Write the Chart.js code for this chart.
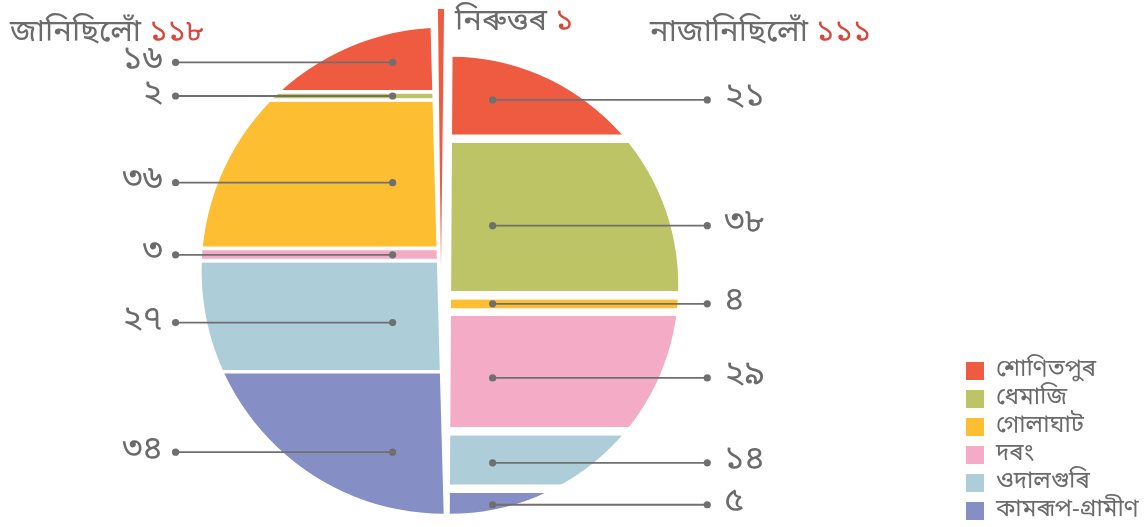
<!DOCTYPE html>
<html><head><meta charset="utf-8">
<script src="https://cdn.jsdelivr.net/npm/chart.js@4.4.1/dist/chart.umd.min.js"></script>
<style>
html,body{margin:0;padding:0;background:#fff;}
#wrap{position:relative;width:1148px;height:527px;overflow:hidden;}
#main{position:absolute;left:0;top:0;}
#wedge{position:absolute;left:179px;top:9px;}
</style></head><body>
<div id="wrap"><canvas id="main" width="1148" height="527"></canvas><canvas id="wedge" width="524" height="524"></canvas></div>
<script>
// ---- data ----
const districts = ['শোণিতপুৰ', 'ধেমাজি', 'গোলাঘাট', 'দৰং', 'ওদালগুৰি', 'কামৰূপ-গ্ৰামীণ'];
const knew = [16, 2, 36, 3, 27, 34];          // জানিছিলোঁ
const didNotKnow = [21, 38, 4, 29, 14, 5];    // নাজানিছিলোঁ
const noAnswer = 1;                           // নিৰুত্তৰ
const groupLabels = ['জানিছিলোঁ', 'নাজানিছিলোঁ', 'নিৰুত্তৰ'];
const colors = ['#EF5B40', '#BCC465', '#FDBE32', '#F4ABC6', '#ADCDD8', '#858FC6'];

const FONT = '"Noto Sans Bengali","Lohit Assamese","Lohit Bengali","Noto Sans",sans-serif';
const GRAY = '#6b6b6b';
const RED = '#D9463A';
const sum = a => a.reduce((s, v) => s + v, 0);
const bn = n => String(n).replace(/\d/g, d => '০১২৩৪৫৬৭৮৯'[d]);
const sides = [knew, didNotKnow];
const gapPx = [4, 9];
const LEADER_AT = 0.56;   // leader line position inside a band, from its top
const LEGEND_W = 186;

Chart.defaults.font.family = FONT;

// geometry of each half derived from the scales
function halves(chart) {
  const xs = chart.scales.x, ys = chart.scales.y;
  const B = xs.getPixelForValue(1);
  const base = ys.getPixelForValue(0);
  const unit = base - ys.getPixelForValue(1);
  return sides.map((arr, s) => {
    const R = sum(arr) * unit / 2;
    const cy = base - R;
    if (s === 0) return {cx: B - 2.7, cy, R, x0: B - 10.2, k: 0.0270, base, unit};
    return {cx: B + 2.3, cy, R, x0: B + 3.8, k: -0.006, base, unit};
  });
}
function regionPath(ctx, h, anticlockwise) {
  const d = h.x0 - h.cx, a = 1 + h.k * h.k, b = 2 * d * h.k, c = d * d - h.R * h.R;
  const disc = Math.sqrt(b * b - 4 * a * c);
  const t1 = (-b - disc) / (2 * a), t2 = (-b + disc) / (2 * a);
  const p1 = {x: h.x0 + h.k * t1, y: h.cy + t1}, p2 = {x: h.x0 + h.k * t2, y: h.cy + t2};
  const a1 = Math.atan2(p1.y - h.cy, p1.x - h.cx), a2 = Math.atan2(p2.y - h.cy, p2.x - h.cx);
  ctx.moveTo(p1.x, p1.y);
  ctx.arc(h.cx, h.cy, h.R, a1, a2, anticlockwise);
  ctx.closePath();
}

const halfClip = {
  id: 'halfClip',
  beforeDatasetsDraw(chart) {
    const ctx = chart.ctx, hs = halves(chart);
    ctx.save();
    ctx.beginPath();
    regionPath(ctx, hs[0], true);
    regionPath(ctx, hs[1], false);
    ctx.clip();
  },
  afterDatasetsDraw(chart) {
    const ctx = chart.ctx;
    ctx.restore();
    const hs = halves(chart);
    ctx.save();
    hs.forEach((h, s) => {
      const arr = sides[s];
      const n = arr.length;
      arr.forEach((v, i) => {
        let below = 0;
        for (let j = i + 1; j < n; j++) below += arr[j];
        const top = h.base - (below + v) * h.unit;
        const bot = h.base - below * h.unit - (i === n - 1 ? 0 : gapPx[s]);
        const y = top + (bot - top) * LEADER_AT;
        let xa, xb;
        if (s === 0) { xa = h.cx - h.R - 26; xb = h.cx - 52; }
        else { xa = h.cx + 43; xb = h.cx + h.R + 29; }
        ctx.strokeStyle = '#6f6f6f';
        ctx.fillStyle = '#6f6f6f';
        ctx.lineWidth = 1.8;
        ctx.beginPath(); ctx.moveTo(xa, y); ctx.lineTo(xb, y); ctx.stroke();
        [xa, xb].forEach(x => { ctx.beginPath(); ctx.arc(x, y, 3.6, 0, Math.PI * 2); ctx.fill(); });
        ctx.font = '34px ' + FONT;
        ctx.fillStyle = GRAY;
        ctx.textBaseline = 'middle';
        if (s === 0) { ctx.textAlign = 'right'; ctx.fillText(bn(v), xa - 13, y); }
        else { ctx.textAlign = 'left'; ctx.fillText(bn(v), xb + 17, y); }
      });
    });
    ctx.restore();
  },
  afterDraw(chart) {
    const ctx = chart.ctx;
    ctx.save();
    ctx.font = '31px ' + FONT;
    ctx.textBaseline = 'alphabetic';
    ctx.textAlign = 'left';
    const titles = [
      {t: groupLabels[0], n: sum(knew), x: 10, y: 41},
      {t: groupLabels[2], n: noAnswer, x: 455, y: 30},
      {t: groupLabels[1], n: sum(didNotKnow), x: 650, y: 41}
    ];
    titles.forEach(o => {
      ctx.fillStyle = GRAY;
      const txt = o.t + ' ';
      ctx.fillText(txt, o.x, o.y);
      const w = ctx.measureText(txt).width;
      ctx.fillStyle = RED;
      ctx.fillText(bn(o.n), o.x + w, o.y);
    });
    ctx.restore();
  }
};

const order = districts.map((_, i) => i).reverse(); // bottom band first
const datasets = order.map(i => ({
  label: districts[i],
  data: [{x: 0.5, y: knew[i]}, {x: 1.5, y: didNotKnow[i]}],
  backgroundColor: colors[i],
  borderColor: '#ffffff',
  borderSkipped: false,
  borderWidth: ctx => ({top: 0, left: 0, right: 0,
    bottom: (ctx.datasetIndex === 0 || ctx.dataIndex === undefined) ? 0 : gapPx[ctx.dataIndex]}),
  barPercentage: 1,
  categoryPercentage: 1
}));

const mainChart = new Chart(document.getElementById('main'), {
  type: 'bar',
  data: {datasets},
  options: {
    responsive: false, animation: false, devicePixelRatio: 1, events: [],
    layout: {padding: {left: 190, right: 0, top: 3, bottom: 0}},
    scales: {
      x: {type: 'linear', min: 0, max: 3, offset: false, stacked: true, display: false, ticks: {stepSize: 1}},
      y: {min: -3.2, max: 124, stacked: true, display: false}
    },
    plugins: {
      tooltip: {enabled: false},
      legend: {
        position: 'right', align: 'end', reverse: true, maxWidth: LEGEND_W,
        labels: {
          font: {size: 24, family: FONT}, color: GRAY, boxWidth: 18, boxHeight: 18, padding: 4,
          generateLabels: c => Chart.defaults.plugins.legend.labels.generateLabels(c).map(it => ({...it, lineWidth: 0}))
        }
      }
    }
  },
  plugins: [halfClip]
});
// keep the legend column at a fixed place whatever the label widths are
if (Math.abs(mainChart.legend.width - LEGEND_W) > 0.5) {
  mainChart.options.layout.padding.right = LEGEND_W - mainChart.legend.width;
  mainChart.update();
}

const total = noAnswer + sum(knew) + sum(didNotKnow);
new Chart(document.getElementById('wedge'), {
  type: 'pie',
  data: {
    labels: [groupLabels[2], groupLabels[1], groupLabels[0]],
    datasets: [{
      data: [noAnswer, sum(didNotKnow), sum(knew)],
      backgroundColor: [colors[0], 'rgba(0,0,0,0)', 'rgba(0,0,0,0)'],
      borderWidth: 0,
      offset: [12, 0, 0]
    }]
  },
  options: {
    responsive: false, animation: false, devicePixelRatio: 1, events: [],
    rotation: -180 * noAnswer / total,
    plugins: {legend: {display: false}, tooltip: {enabled: false}}
  }
});
</script>
</body></html>
